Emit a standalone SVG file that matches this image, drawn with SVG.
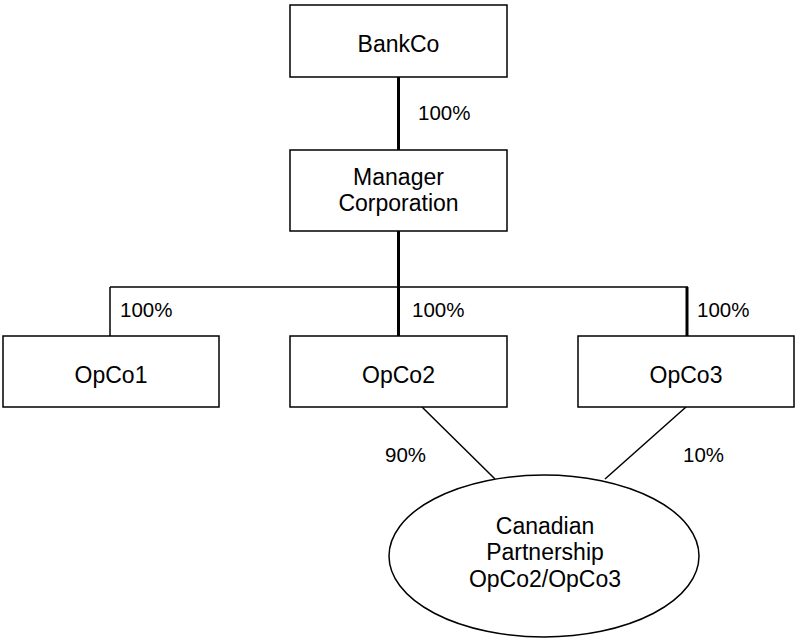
<svg xmlns="http://www.w3.org/2000/svg" width="795" height="639" viewBox="0 0 795 639">
  <style>
    .box { fill: #fff; stroke: #000; stroke-width: 1.5; }
    .name { font-family: "Liberation Sans", Arial, sans-serif; font-size: 23px; fill: #000; text-anchor: middle; }
    .pct { font-family: "Liberation Sans", Arial, sans-serif; font-size: 20.5px; fill: #000; }
    .thick { stroke: #000; stroke-width: 3; fill: none; }
    .thin { stroke: #000; stroke-width: 1.5; fill: none; }
  </style>
  <rect width="795" height="639" fill="#fff"/>

  <!-- ownership lines -->
  <g id="connectors">
    <line class="thick" x1="398.5" y1="77" x2="398.5" y2="150"/>
    <line class="thick" x1="398.5" y1="231" x2="398.5" y2="336"/>
    <line class="thin" x1="110" y1="287" x2="688" y2="287" stroke-width="2"/>
    <line class="thin" x1="110" y1="287" x2="110" y2="336"/>
    <line class="thick" x1="687" y1="287" x2="687" y2="336"/>
    <line class="thin" x1="422" y1="407" x2="495" y2="479"/>
    <line class="thin" x1="686" y1="407" x2="605" y2="479"/>
    <text class="pct" x="418" y="120">100%</text>
    <text class="pct" x="120" y="317">100%</text>
    <text class="pct" x="412" y="317">100%</text>
    <text class="pct" x="697" y="317">100%</text>
    <text class="pct" x="385" y="462">90%</text>
    <text class="pct" x="683" y="462">10%</text>
  </g>

  <g id="bankco">
    <rect class="box" x="290" y="5" width="217" height="72"/>
    <text class="name" x="398.5" y="52">BankCo</text>
  </g>

  <g id="manager">
    <rect class="box" x="290" y="150" width="217" height="81"/>
    <text class="name" x="398.5" y="185">Manager</text>
    <text class="name" x="398.5" y="211">Corporation</text>
  </g>

  <g id="opco1">
    <rect class="box" x="3" y="336" width="216" height="71"/>
    <text class="name" x="111" y="383">OpCo1</text>
  </g>

  <g id="opco2">
    <rect class="box" x="290" y="336" width="217" height="71"/>
    <text class="name" x="398.5" y="383">OpCo2</text>
  </g>

  <g id="opco3">
    <rect class="box" x="578" y="336" width="216" height="71"/>
    <text class="name" x="686" y="383">OpCo3</text>
  </g>

  <g id="partnership">
    <ellipse class="box" cx="544" cy="556" rx="155" ry="81"/>
    <text class="name" x="545" y="534">Canadian</text>
    <text class="name" x="545" y="560">Partnership</text>
    <text class="name" x="545" y="587">OpCo2/OpCo3</text>
  </g>
</svg>
